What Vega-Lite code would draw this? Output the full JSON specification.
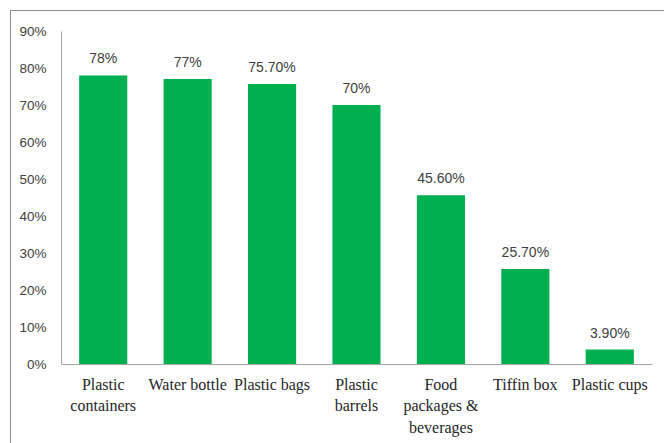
{
  "$schema": "https://vega.github.io/schema/vega-lite/v6.json",
  "width": 680,
  "height": 460,
  "autosize": {"type": "none"},
  "padding": {"left": 10, "top": 10, "right": 0, "bottom": 0},
  "background": "white",
  "config": {"view": {"stroke": "#8c8c8c", "strokeWidth": 1}},
  "data": {
    "values": [
      {"item": "Plastic containers", "value": 0.78, "label": "78%"},
      {"item": "Water bottle", "value": 0.77, "label": "77%"},
      {"item": "Plastic bags", "value": 0.757, "label": "75.70%"},
      {"item": "Plastic barrels", "value": 0.70, "label": "70%"},
      {"item": "Food packages & beverages", "value": 0.456, "label": "45.60%"},
      {"item": "Tiffin box", "value": 0.257, "label": "25.70%"},
      {"item": "Plastic cups", "value": 0.039, "label": "3.90%"}
    ]
  },
  "encoding": {
    "x": {
      "field": "item",
      "type": "nominal",
      "sort": null,
      "scale": {"range": [51, 642], "paddingInner": 0.43, "paddingOuter": 0.215},
      "axis": {
        "title": null,
        "orient": "bottom",
        "offset": -106,
        "labelAngle": 0,
        "domainColor": "#a6a6a6",
        "domainWidth": 1,
        "ticks": false,
        "tickSize": 0,
        "labelPadding": 12,
        "labelFont": "'Liberation Serif', 'Times New Roman', 'DejaVu Serif', serif",
        "labelFontSize": 16,
        "labelColor": "#262626",
        "labelLineHeight": 21.5,
        "labelLimit": 200,
        "labelExpr": "datum.value == 'Plastic containers' ? ['Plastic', 'containers'] : datum.value == 'Plastic barrels' ? ['Plastic', 'barrels'] : datum.value == 'Food packages & beverages' ? ['Food', 'packages &', 'beverages'] : datum.value"
      }
    },
    "y": {
      "field": "value",
      "type": "quantitative",
      "scale": {"domain": [0, 0.9], "range": [354, 21], "nice": false, "zero": true},
      "axis": {
        "title": null,
        "orient": "left",
        "offset": -51,
        "values": [0, 0.1, 0.2, 0.3, 0.4, 0.5, 0.6, 0.7, 0.8, 0.9],
        "format": ".0%",
        "grid": false,
        "ticks": false,
        "tickSize": 0,
        "labelPadding": 15,
        "domainColor": "#a6a6a6",
        "domainWidth": 1,
        "labelFont": "Liberation Sans",
        "labelFontSize": 13.5,
        "labelColor": "#404040"
      }
    }
  },
  "layer": [
    {"mark": {"type": "bar", "color": "#00B050"}},
    {
      "mark": {
        "type": "text",
        "baseline": "alphabetic",
        "dy": -12,
        "font": "Liberation Sans",
        "fontSize": 14,
        "color": "#404040"
      },
      "encoding": {"text": {"field": "label"}}
    }
  ]
}
